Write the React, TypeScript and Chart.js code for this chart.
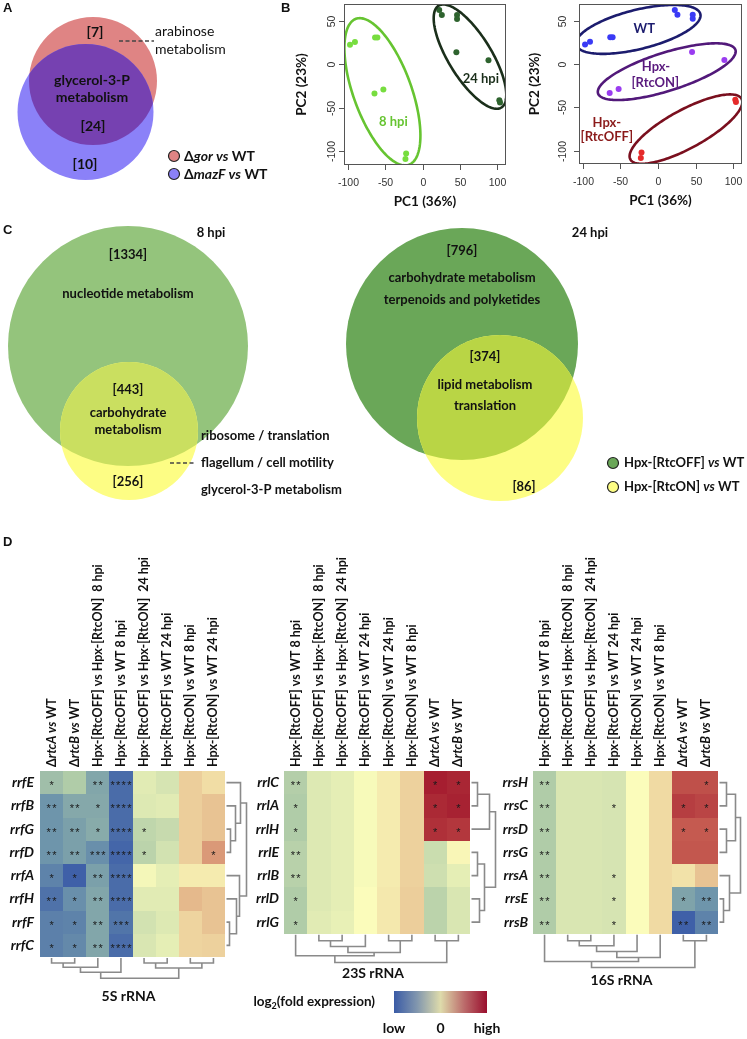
import React, { useEffect, useRef } from "react";
import { Chart, registerables } from "chart.js";

Chart.register(...registerables);

const FONT = "Lato, 'Open Sans', 'DejaVu Sans', sans-serif";
const RFONT = "'Liberation Sans', Arial, sans-serif";

/* ================= DATA ================= */

/* Panel A : Venn */
const A_LEGEND = ["Δ_gor vs_ WT", "Δ_mazF vs_ WT"];
const A_COUNTS = ["[7]", "[24]", "[10]"];
const A_SHARED_TERM = ["glycerol-3-P", "metabolism"];
const A_SIDE_TERM = ["arabinose", "metabolism"];

/* Panel B : PCA scores */
const PC1 = [-96.9, -90.3, -63.4, -60.3, -64.2, -52.3, -21.9, -22.8, 22.3, 25.8, 46.1, 46.1, 45.2, 88.1, 102.6, 103.5];
const PC2 = [22.7, 25.7, 31.0, 31.0, -33.5, -28.7, -102.3, -108.7, 62.6, 56.9, 56.9, 52.3, 13.9, 4.8, -41.2, -43.8];
const HPI = ["8 hpi", "8 hpi", "8 hpi", "8 hpi", "8 hpi", "8 hpi", "8 hpi", "8 hpi",
  "24 hpi", "24 hpi", "24 hpi", "24 hpi", "24 hpi", "24 hpi", "24 hpi", "24 hpi"];
const STRAIN = ["WT", "WT", "WT", "WT", "RtcON", "RtcON", "RtcOFF", "RtcOFF",
  "WT", "WT", "WT", "WT", "RtcON", "RtcON", "RtcOFF", "RtcOFF"];
const PCA_X_TICKS = [-100, -50, 0, 50, 100];
const PCA_Y_TICKS = [-100, -50, 0, 50];

/* Panel C : Venn */
const C8_COUNTS = ["[1334]", "[443]", "[256]"];
const C8_BIG_TERMS = ["nucleotide metabolism"];
const C8_SHARED_TERMS = ["carbohydrate", "metabolism"];
const C8_SIDE_TERMS = ["ribosome / translation", "flagellum / cell motility", "glycerol-3-P metabolism"];
const C24_COUNTS = ["[796]", "[374]", "[86]"];
const C24_BIG_TERMS = ["carbohydrate metabolism", "terpenoids and polyketides"];
const C24_SHARED_TERMS = ["lipid metabolism", "translation"];
const C_LEGEND = ["Hpx-[RtcOFF] _vs_ WT", "Hpx-[RtcON] _vs_ WT"];

/* Panel D : heatmaps */
const COLS_5S = ["Δ_rtcA vs_ WT", "Δ_rtcB vs_ WT", "Hpx-[RtcOFF] vs Hpx-[RtcON]  8 hpi", "Hpx-[RtcOFF] vs WT 8 hpi",
  "Hpx-[RtcOFF] vs Hpx-[RtcON]  24 hpi", "Hpx-[RtcOFF] vs WT 24 hpi", "Hpx-[RtcON] vs WT 8 hpi", "Hpx-[RtcON] vs WT 24 hpi"];
const ROWS_5S = ["rrfE", "rrfB", "rrfG", "rrfD", "rrfA", "rrfH", "rrfF", "rrfC"];
const VAL_5S = [
  [-1.25, -1.0, -1.7, -2.7, -0.35, -0.5, 0.8, 0.55],
  [-2.0, -1.65, -1.65, -2.7, -0.4, -0.35, 0.8, 1.0],
  [-2.0, -1.8, -1.6, -2.7, -0.8, -0.7, 0.8, 1.0],
  [-2.0, -1.8, -2.1, -2.8, -0.85, -0.55, 0.8, 1.4],
  [-2.3, -2.9, -1.8, -2.7, -0.1, -0.3, 0.3, 0.3],
  [-2.6, -2.1, -1.7, -2.7, -0.35, -0.35, 1.1, 1.0],
  [-2.35, -2.3, -1.7, -2.55, -0.55, -0.4, 0.7, 1.0],
  [-2.35, -2.2, -1.7, -2.7, -0.45, -0.3, 0.7, 0.75],
];
const STARS_5S = [
  [1, 0, 2, 4, 0, 0, 0, 0],
  [2, 2, 1, 4, 0, 0, 0, 0],
  [2, 2, 1, 4, 1, 0, 0, 0],
  [2, 2, 3, 4, 1, 0, 0, 1],
  [1, 1, 2, 4, 0, 0, 0, 0],
  [2, 1, 2, 4, 0, 0, 0, 0],
  [1, 1, 2, 3, 0, 0, 0, 0],
  [1, 1, 2, 4, 0, 0, 0, 0],
];
const COLDEND_5S: [number, number, number][] = [[-1, -2, 5], [1, -3, 9.3], [2, -4, 14.3], [-5, -6, 5], [-7, -8, 5], [4, 5, 10], [3, 6, 20.3]];
const ROWDEND_5S: [number, number, number][] = [[-3, -4, 4], [-2, 1, 9], [-1, 2, 14], [-7, -8, 3], [-6, 4, 10], [-5, 5, 13], [3, 6, 20]];

const COLS_RRL = ["Hpx-[RtcOFF] vs WT 8 hpi", "Hpx-[RtcOFF] vs Hpx-[RtcON]  8 hpi", "Hpx-[RtcOFF] vs Hpx-[RtcON]  24 hpi",
  "Hpx-[RtcOFF] vs WT 24 hpi", "Hpx-[RtcON] vs WT 24 hpi", "Hpx-[RtcON] vs WT 8 hpi", "Δ_rtcA vs_ WT", "Δ_rtcB vs_ WT"];
const ROWS_23S = ["rrlC", "rrlA", "rrlH", "rrlE", "rrlB", "rrlD", "rrlG"];
const VAL_23S = [
  [-0.95, -0.4, -0.3, -0.05, 0.3, 0.75, 2.85, 2.75],
  [-1.0, -0.4, -0.3, -0.05, 0.3, 0.75, 2.7, 2.8],
  [-1.0, -0.4, -0.3, -0.05, 0.3, 0.75, 2.6, 2.5],
  [-0.9, -0.4, -0.3, -0.05, 0.3, 0.75, -0.65, 0.1],
  [-0.9, -0.4, -0.3, -0.05, 0.3, 0.75, -0.6, -0.3],
  [-1.0, -0.4, -0.3, 0.0, 0.35, 0.8, -0.85, -0.45],
  [-1.0, -0.35, -0.25, 0.0, 0.35, 0.8, -0.85, -0.45],
];
const STARS_23S = [
  [2, 0, 0, 0, 0, 0, 1, 1],
  [1, 0, 0, 0, 0, 0, 1, 1],
  [1, 0, 0, 0, 0, 0, 1, 1],
  [2, 0, 0, 0, 0, 0, 0, 0],
  [2, 0, 0, 0, 0, 0, 0, 0],
  [1, 0, 0, 0, 0, 0, 0, 0],
  [1, 0, 0, 0, 0, 0, 0, 0],
];
const COLDEND_23S: [number, number, number][] = [[-2, -3, 6], [1, -4, 11.7], [-5, -6, 6], [2, 3, 17.7], [-1, 4, 21], [-7, -8, 6], [5, 6, 27.7]];
const ROWDEND_23S: [number, number, number][] = [[-1, -2, 6], [1, -3, 18], [-4, -5, 6], [-6, -7, 8], [3, 4, 13], [2, 5, 24]];

const ROWS_16S = ["rrsH", "rrsC", "rrsD", "rrsG", "rrsA", "rrsE", "rrsB"];
const VAL_16S = [
  [-1.0, -0.45, -0.45, -0.5, 0.0, 0.6, 2.15, 2.15],
  [-1.0, -0.45, -0.45, -0.5, 0.0, 0.6, 2.4, 2.3],
  [-1.0, -0.45, -0.45, -0.5, 0.0, 0.6, 2.0, 2.0],
  [-1.0, -0.45, -0.45, -0.5, 0.0, 0.6, 2.05, 2.05],
  [-1.0, -0.45, -0.45, -0.5, 0.0, 0.6, 0.45, 1.0],
  [-1.0, -0.45, -0.45, -0.5, 0.0, 0.6, -1.75, -2.0],
  [-1.0, -0.45, -0.45, -0.5, 0.0, 0.6, -2.9, -2.3],
];
const STARS_16S = [
  [2, 0, 0, 0, 0, 0, 0, 1],
  [2, 0, 0, 1, 0, 0, 1, 1],
  [2, 0, 0, 0, 0, 0, 1, 1],
  [2, 0, 0, 0, 0, 0, 0, 0],
  [2, 0, 0, 1, 0, 0, 0, 0],
  [2, 0, 0, 1, 0, 0, 1, 2],
  [2, 0, 0, 1, 0, 0, 2, 2],
];
const COLDEND_16S: [number, number, number][] = [[-2, -3, 6], [1, -4, 11], [2, -5, 16.7], [3, -6, 22.7], [-1, 4, 26.7], [-7, -8, 6], [5, 6, 32.7]];
const ROWDEND_16S: [number, number, number][] = [[-1, -2, 7], [-3, -4, 7], [1, 2, 16], [-6, -7, 4], [-5, 4, 10], [3, 5, 21]];

const LEGEND_TICKS = [-3, 0, 3];
const LEGEND_TICK_LABELS = ["low", "0", "high"];

/* ================= STYLE ================= */
const CMAP_STOPS: [number, string][] = [
  [-3, "#3a5aa8"], [-2, "#6e95ab"], [-1, "#b0cca8"], [0, "#fbfcbb"], [1, "#e8c393"], [2, "#c55a50"], [3, "#a0142a"],
];
const LEGEND_STOPS: [number, string][] = [[0, "#3a5ba6"], [0.25, "#8297ae"], [0.5, "#dedbab"], [0.75, "#bc6d6c"], [1, "#9a0f2e"]];

function hexRgb(h: string) {
  const n = parseInt(h.slice(1), 16);
  return [(n >> 16) & 255, (n >> 8) & 255, n & 255];
}
function cmap(v: number) {
  const s = CMAP_STOPS;
  if (v <= s[0][0]) return s[0][1];
  if (v >= s[s.length - 1][0]) return s[s.length - 1][1];
  for (let i = 0; i < s.length - 1; i++) {
    if (v >= s[i][0] && v <= s[i + 1][0]) {
      const t = (v - s[i][0]) / (s[i + 1][0] - s[i][0]);
      const a = hexRgb(s[i][1]), b = hexRgb(s[i + 1][1]);
      return `rgb(${a.map((c, k) => Math.round(c + (b[k] - c) * t)).join(",")})`;
    }
  }
  return s[0][1];
}

/* ================= HELPERS ================= */
function fontStr(size: number, bold: boolean, italic: boolean, fam = FONT) {
  return `${italic ? "italic " : ""}${bold ? "bold " : ""}${size}px ${fam}`;
}
function richParts(s: string) {
  return s.split("_").map((p, i) => ({ s: p, it: i % 2 === 1 })).filter((p) => p.s.length > 0);
}
function drawRich(ctx: any, s: string, x: number, y: number, size: number, align: string, color: string, bold = true) {
  const parts = richParts(s);
  let total = 0;
  for (const p of parts) { ctx.font = fontStr(size, bold, p.it); total += ctx.measureText(p.s).width; }
  let cx = align === "left" ? x : align === "center" ? x - total / 2 : x - total;
  ctx.textAlign = "left";
  ctx.fillStyle = color;
  for (const p of parts) { ctx.font = fontStr(size, bold, p.it); ctx.fillText(p.s, cx, y); cx += ctx.measureText(p.s).width; }
}
function panelLetter(ctx: any, s: string, x: number, y: number) {
  ctx.save();
  ctx.font = `bold 13px ${RFONT}`;
  ctx.fillStyle = "#111";
  ctx.textAlign = "left";
  ctx.textBaseline = "alphabetic";
  ctx.fillText(s, x, y);
  ctx.restore();
}

function baseConfig(pad: any, xr: number[], yr: number[], yReverse: boolean, hooks: any, datasets: any[] = []) {
  return {
    type: "scatter",
    data: { datasets },
    options: {
      responsive: false,
      animation: false,
      events: [],
      layout: { padding: pad },
      plugins: { legend: { display: false }, tooltip: { enabled: false } },
      scales: {
        x: { type: "linear", min: xr[0], max: xr[1], display: false },
        y: { type: "linear", min: yr[0], max: yr[1], display: false, reverse: yReverse },
      },
    },
    plugins: [{
      id: "drawing",
      beforeDatasetsDraw: (c: any) => { if (hooks.before) hooks.before(c); },
      afterDatasetsDraw: (c: any) => { if (hooks.after) hooks.after(c); },
    }],
  };
}

function vennPair(chart: any, big: any, small: any, cBig: string, cSmall: string, cOver: string) {
  const { ctx } = chart; const xs = chart.scales.x, ys = chart.scales.y;
  const px = (c: any) => ({
    x: xs.getPixelForValue(c.cx), y: ys.getPixelForValue(c.cy),
    rx: Math.abs(xs.getPixelForValue(c.cx + c.r) - xs.getPixelForValue(c.cx)),
    ry: Math.abs(ys.getPixelForValue(c.cy + c.r) - ys.getPixelForValue(c.cy)),
  });
  const a = px(big), b = px(small);
  const path = (p: any) => { ctx.beginPath(); ctx.ellipse(p.x, p.y, p.rx, p.ry, 0, 0, Math.PI * 2); };
  ctx.save();
  ctx.fillStyle = cBig; path(a); ctx.fill();
  ctx.fillStyle = cSmall; path(b); ctx.fill();
  path(a); ctx.clip();
  ctx.fillStyle = cOver; path(b); ctx.fill();
  ctx.restore();
}

function textAt(chart: any, s: string, x: number, y: number, size: number, align = "center", color = "#111", bold = true) {
  const { ctx } = chart;
  ctx.save();
  ctx.textBaseline = "middle";
  drawRich(ctx, s, chart.scales.x.getPixelForValue(x), chart.scales.y.getPixelForValue(y), size, align, color, bold);
  ctx.restore();
}

function marker(chart: any, x: number, y: number, color: string) {
  const { ctx } = chart;
  ctx.save();
  ctx.beginPath();
  ctx.arc(chart.scales.x.getPixelForValue(x), chart.scales.y.getPixelForValue(y), 5.5, 0, Math.PI * 2);
  ctx.fillStyle = color; ctx.fill();
  ctx.strokeStyle = "#222"; ctx.lineWidth = 1.2; ctx.stroke();
  ctx.restore();
}

function dashed(chart: any, x0: number, x1: number, y: number) {
  const { ctx } = chart; const xs = chart.scales.x, ys = chart.scales.y;
  ctx.save();
  ctx.strokeStyle = "#444"; ctx.lineWidth = 1.6; ctx.setLineDash([4, 2.5]);
  ctx.beginPath();
  ctx.moveTo(xs.getPixelForValue(x0), ys.getPixelForValue(y));
  ctx.lineTo(xs.getPixelForValue(x1), ys.getPixelForValue(y));
  ctx.stroke();
  ctx.restore();
}

/* ================= PANEL A ================= */
function makeVennA() {
  return baseConfig(0, [0, 290], [0, 220], true, {
    after: (chart: any) => {
      vennPair(chart, { cx: 93, cy: 81, r: 64 }, { cx: 85.5, cy: 112, r: 68 }, "#df8484", "#8b81f8", "#7641b1");
      textAt(chart, A_COUNTS[0], 95, 32, 14);
      dashed(chart, 119, 154, 41);
      textAt(chart, A_SIDE_TERM[0], 155, 31, 14, "left", "#111", false);
      textAt(chart, A_SIDE_TERM[1], 155, 49, 14, "left", "#111", false);
      textAt(chart, A_SHARED_TERM[0], 92, 80, 14);
      textAt(chart, A_SHARED_TERM[1], 92, 97, 14);
      textAt(chart, A_COUNTS[1], 93, 126, 14);
      textAt(chart, A_COUNTS[2], 85, 164, 14);
      marker(chart, 174, 156, "#df8484");
      marker(chart, 174, 174, "#8b81f8");
      textAt(chart, A_LEGEND[0], 184, 156, 14, "left");
      textAt(chart, A_LEGEND[1], 184, 174, 14, "left");
      panelLetter(chart.ctx, "A", 3, 12);
      panelLetter(chart.ctx, "B", 281, 12);
    },
  });
}

/* ================= PANEL B ================= */
const extent = (a: number[]) => {
  const mn = Math.min(...a), mx = Math.max(...a), d = (mx - mn) * 0.04;
  return [mn - d, mx + d];
};

const ELL_TIME = [
  { key: "8 hpi", cx: -53.6, cy: -31.4, ux: 35.4, uy: -83.8, vx: 36.4, vy: 11.4, color: "#66c431" },
  { key: "24 hpi", cx: 63.4, cy: 9.0, ux: 41.9, uy: -58.5, vx: 24.4, vy: 13.0, color: "#1b2f1b" },
];
const ELL_STRAIN = [
  { key: "WT", cx: -26.2, cy: 40.1, ux: 82.4, uy: 17.8, vx: 6.4, vy: -22.0, color: "#1c1c6e" },
  { key: "RtcON", cx: 11.6, cy: -8.8, ux: 91.2, uy: 25.2, vx: 7.9, vy: -21.0, color: "#52197a" },
  { key: "RtcOFF", cx: 37.1, cy: -75.2, ux: 73.8, uy: 35.1, vx: 12.5, vy: -19.4, color: "#7a0f1e" },
];

function drawPca(chart: any, ellipses: any[], labels: any[], ylabOff: number, titleOff: number) {
  const { ctx, chartArea: ca } = chart; const xs = chart.scales.x, ys = chart.scales.y;
  ctx.save();
  ctx.save();
  ctx.beginPath(); ctx.rect(ca.left, ca.top, ca.right - ca.left, ca.bottom - ca.top); ctx.clip();
  for (const e of ellipses) {
    ctx.beginPath();
    for (let i = 0; i <= 180; i++) {
      const t = (i / 180) * Math.PI * 2;
      const X = xs.getPixelForValue(e.cx + e.ux * Math.cos(t) + e.vx * Math.sin(t));
      const Y = ys.getPixelForValue(e.cy + e.uy * Math.cos(t) + e.vy * Math.sin(t));
      if (i === 0) ctx.moveTo(X, Y); else ctx.lineTo(X, Y);
    }
    ctx.closePath();
    ctx.strokeStyle = e.color; ctx.lineWidth = 2.6; ctx.stroke();
  }
  ctx.restore();
  for (const l of labels) textAt(chart, l.t, l.x, l.y, 13, "center", l.color);
  ctx.strokeStyle = "#555"; ctx.lineWidth = 1;
  ctx.strokeRect(Math.round(ca.left) + 0.5, Math.round(ca.top) + 0.5, Math.round(ca.right - ca.left) - 1, Math.round(ca.bottom - ca.top) - 1);
  ctx.font = `10.5px ${RFONT}`; ctx.fillStyle = "#333"; ctx.textAlign = "center"; ctx.textBaseline = "middle";
  ctx.beginPath();
  for (const v of PCA_X_TICKS) {
    const p = Math.round(xs.getPixelForValue(v)) + 0.5;
    ctx.moveTo(p, ca.bottom); ctx.lineTo(p, ca.bottom + 5);
    ctx.fillText(String(v), p, ca.bottom + 18);
  }
  for (const v of PCA_Y_TICKS) {
    const p = Math.round(ys.getPixelForValue(v)) + 0.5;
    ctx.moveTo(ca.left, p); ctx.lineTo(ca.left - 5, p);
    ctx.save(); ctx.translate(ca.left - ylabOff, p); ctx.rotate(-Math.PI / 2); ctx.fillText(String(v), 0, 0); ctx.restore();
  }
  ctx.stroke();
  ctx.font = fontStr(13.5, true, false); ctx.fillStyle = "#111";
  ctx.fillText("PC1 (36%)", (ca.left + ca.right) / 2, ca.bottom + 37);
  ctx.save(); ctx.translate(ca.left - titleOff, (ca.top + ca.bottom) / 2); ctx.rotate(-Math.PI / 2);
  ctx.fillText("PC2 (23%)", 0, 0); ctx.restore();
  ctx.restore();
}

function pcaConfig(pad: any, colors: string[], ellipses: any[], labels: any[], ylabOff: number, titleOff: number) {
  const xr = extent(PC1), yr = extent(PC2);
  const ds = [{
    data: PC1.map((x, i) => ({ x, y: PC2[i] })),
    pointRadius: 3, pointBorderWidth: 0,
    pointBackgroundColor: colors, pointBorderColor: colors, showLine: false,
  }];
  return baseConfig(pad, xr, yr, false, { after: (c: any) => drawPca(c, ellipses, labels, ylabOff, titleOff) }, ds);
}

function makePcaLeft() {
  const colors = HPI.map((h) => (h === "8 hpi" ? "#77dd3f" : "#2e632e"));
  return pcaConfig({ left: 54, top: 2, right: 2, bottom: 50 }, colors, ELL_TIME, [
    { t: "8 hpi", x: -39, y: -65.4, color: "#66c431" },
    { t: "24 hpi", x: 78, y: -16.5, color: "#1b2f1b" },
  ], 12, 42);
}
function makePcaRight() {
  const pal: any = { WT: "#3a3af5", RtcON: "#9a3cf0", RtcOFF: "#e52a2a" };
  return pcaConfig({ left: 69, top: 3, right: 5, bottom: 51 }, STRAIN.map((s) => pal[s]), ELL_STRAIN, [
    { t: "WT", x: -18.2, y: 41.2, color: "#1c1c6e" },
    { t: "Hpx-", x: -2.7, y: -3.4, color: "#5a1a7e" },
    { t: "[RtcON]", x: -3.6, y: -21.8, color: "#5a1a7e" },
    { t: "Hpx-", x: -68, y: -67.6, color: "#8b1a1a" },
    { t: "[RtcOFF]", x: -68, y: -84.4, color: "#8b1a1a" },
  ], 16, 44);
}

/* ================= PANEL C ================= */
function makeVennC() {
  return baseConfig(0, [0, 747], [222, 512], true, {
    after: (chart: any) => {
      vennPair(chart, { cx: 128, cy: 346, r: 120 }, { cx: 129, cy: 431, r: 69 }, "#94c47c", "#fdfd84", "#cadf60");
      vennPair(chart, { cx: 462, cy: 344, r: 116 }, { cx: 500, cy: 418, r: 83 }, "#6aa758", "#fdfd84", "#b9d545");
      panelLetter(chart.ctx, "C", 3, 12);
      textAt(chart, "8 hpi", 211, 233, 13);
      textAt(chart, C8_COUNTS[0], 128, 255, 13);
      textAt(chart, C8_BIG_TERMS[0], 128, 294, 13);
      textAt(chart, C8_COUNTS[1], 128, 390, 13);
      textAt(chart, C8_SHARED_TERMS[0], 128, 413, 13);
      textAt(chart, C8_SHARED_TERMS[1], 128, 430, 13);
      textAt(chart, C8_COUNTS[2], 128, 482, 13);
      textAt(chart, C8_SIDE_TERMS[0], 201, 436, 13, "left");
      dashed(chart, 170, 196, 463);
      textAt(chart, C8_SIDE_TERMS[1], 201, 463, 13, "left");
      textAt(chart, C8_SIDE_TERMS[2], 201, 490, 13, "left");
      textAt(chart, "24 hpi", 590, 233, 13);
      textAt(chart, C24_COUNTS[0], 462, 251, 13);
      textAt(chart, C24_BIG_TERMS[0], 462, 278, 13);
      textAt(chart, C24_BIG_TERMS[1], 462, 300, 13);
      textAt(chart, C24_COUNTS[1], 485, 357, 13);
      textAt(chart, C24_SHARED_TERMS[0], 485, 385, 13);
      textAt(chart, C24_SHARED_TERMS[1], 485, 406, 13);
      textAt(chart, C24_COUNTS[2], 524, 487, 13);
      marker(chart, 613, 463, "#6aa758");
      marker(chart, 613, 487, "#fdfd84");
      textAt(chart, C_LEGEND[0], 624, 463, 13, "left");
      textAt(chart, C_LEGEND[1], 624, 487, 13, "left");
    },
  });
}

/* ================= PANEL D ================= */
function drawDend(ctx: any, merges: [number, number, number][], leaf: number[], base: number, orient: string) {
  const pos: number[] = [], hgt: number[] = [];
  const get = (id: number) => (id < 0 ? [leaf[-id - 1], 0] : [pos[id - 1], hgt[id - 1]]);
  ctx.beginPath();
  merges.forEach(([a, b, h], i) => {
    const [pa, ha] = get(a), [pb, hb] = get(b);
    pos[i] = (pa + pb) / 2; hgt[i] = h;
    if (orient === "bottom") {
      ctx.moveTo(pa, base + ha); ctx.lineTo(pa, base + h); ctx.lineTo(pb, base + h); ctx.lineTo(pb, base + hb);
    } else {
      ctx.moveTo(base + ha, pa); ctx.lineTo(base + h, pa); ctx.lineTo(base + h, pb); ctx.lineTo(base + hb, pb);
    }
  });
  ctx.stroke();
}

function drawHeatmap(chart: any, hm: any) {
  const { ctx, chartArea: ca } = chart; const xs = chart.scales.x, ys = chart.scales.y;
  ctx.save();
  hm.vals.forEach((row: number[], r: number) => row.forEach((v, c) => {
    const x0 = Math.round(xs.getPixelForValue(c)), x1 = Math.round(xs.getPixelForValue(c + 1));
    const y0 = Math.round(ys.getPixelForValue(r)), y1 = Math.round(ys.getPixelForValue(r + 1));
    ctx.fillStyle = cmap(v);
    ctx.fillRect(x0, y0, x1 - x0, y1 - y0);
  }));
  ctx.fillStyle = "#1a1a1a"; ctx.font = `11px ${RFONT}`; ctx.textAlign = "center"; ctx.textBaseline = "alphabetic";
  hm.stars.forEach((row: number[], r: number) => row.forEach((n, c) => {
    const cx = xs.getPixelForValue(c + 0.5), cy = ys.getPixelForValue(r + 0.5);
    for (let k = 0; k < n; k++) ctx.fillText("*", cx + (k - (n - 1) / 2) * 5.6, cy + 6.5);
  }));
  ctx.textBaseline = "middle"; ctx.textAlign = "right"; ctx.fillStyle = "#111"; ctx.font = fontStr(14, true, true);
  hm.rows.forEach((name: string, r: number) => ctx.fillText(name, ca.left - hm.rowGap, ys.getPixelForValue(r + 0.5)));
  hm.cols.forEach((lab: string, c: number) => {
    ctx.save();
    ctx.translate(xs.getPixelForValue(c + 0.5), ca.top - 4);
    ctx.rotate(-Math.PI / 2);
    ctx.textBaseline = "middle";
    drawRich(ctx, lab, 0, 0, 12.5, "left", "#111");
    ctx.restore();
  });
  ctx.strokeStyle = "#8a8a8a"; ctx.lineWidth = 1.6;
  drawDend(ctx, hm.colDend, hm.cols.map((_: any, c: number) => xs.getPixelForValue(c + 0.5)), ca.bottom + 1, "bottom");
  drawDend(ctx, hm.rowDend, hm.rows.map((_: any, r: number) => ys.getPixelForValue(r + 0.5)), ca.right + 1.5, "right");
  ctx.font = fontStr(14, true, false); ctx.textAlign = "center"; ctx.textBaseline = "middle"; ctx.fillStyle = "#111";
  ctx.fillText(hm.title, (ca.left + ca.right) / 2 - 4, ca.bottom + hm.titleDy);
  ctx.restore();
}

function heatmapConfig(hm: any, pad: any, extra?: (c: any) => void) {
  return baseConfig(pad, [0, hm.cols.length], [0, hm.rows.length], true, {
    after: (c: any) => { drawHeatmap(c, hm); if (extra) extra(c); },
  });
}

function make5S() {
  return heatmapConfig({ rows: ROWS_5S, cols: COLS_5S, vals: VAL_5S, stars: STARS_5S, rowDend: ROWDEND_5S, colDend: COLDEND_5S, title: "5S rRNA", titleDy: 39, rowGap: 6 },
    { left: 40, right: 25, top: 241, bottom: 53 }, (c: any) => panelLetter(c.ctx, "D", 3, 16));
}
function make23S() {
  return heatmapConfig({ rows: ROWS_23S, cols: COLS_RRL, vals: VAL_23S, stars: STARS_23S, rowDend: ROWDEND_23S, colDend: COLDEND_23S, title: "23S rRNA", titleDy: 40, rowGap: 5 },
    { left: 34, right: 30, top: 241, bottom: 46.25 });
}
function make16S() {
  return heatmapConfig({ rows: ROWS_16S, cols: COLS_RRL, vals: VAL_16S, stars: STARS_16S, rowDend: ROWDEND_16S, colDend: COLDEND_16S, title: "16S rRNA", titleDy: 47, rowGap: 5 },
    { left: 33, right: 29, top: 241, bottom: 56.25 });
}

function makeLegend() {
  return baseConfig({ left: 154, right: 53, top: 6, bottom: 26 }, [-3, 3], [0, 1], false, {
    after: (chart: any) => {
      const { ctx, chartArea: ca } = chart; const xs = chart.scales.x;
      ctx.save();
      const x0 = xs.getPixelForValue(LEGEND_TICKS[0]), x1 = xs.getPixelForValue(LEGEND_TICKS[LEGEND_TICKS.length - 1]);
      const g = ctx.createLinearGradient(x0, 0, x1, 0);
      for (const [o, c] of LEGEND_STOPS) g.addColorStop(o, c);
      ctx.fillStyle = g;
      ctx.fillRect(x0, ca.top, x1 - x0, ca.bottom - ca.top);
      ctx.fillStyle = "#111"; ctx.textBaseline = "middle";
      ctx.font = fontStr(14, true, false); ctx.textAlign = "center";
      LEGEND_TICKS.forEach((v, i) => ctx.fillText(LEGEND_TICK_LABELS[i], xs.getPixelForValue(v), ca.bottom + 15));
      const yT = ca.top + 11, right = ca.left - 19;
      ctx.textAlign = "left";
      const big = fontStr(13.5, true, false), sub = fontStr(9, true, false);
      ctx.font = big; const wLog = ctx.measureText("log").width, wRest = ctx.measureText("(fold expression)").width;
      ctx.font = sub; const wSub = ctx.measureText("2").width;
      let x = right - (wLog + wSub + wRest);
      ctx.font = big; ctx.fillText("log", x, yT); x += wLog;
      ctx.font = sub; ctx.fillText("2", x, yT + 4); x += wSub;
      ctx.font = big; ctx.fillText("(fold expression)", x, yT);
      ctx.restore();
    },
  });
}

/* ================= REACT ================= */
function ChartBox(props: { left: number; top: number; width: number; height: number; make: () => any }) {
  const ref = useRef<HTMLCanvasElement>(null);
  useEffect(() => {
    const chart = new Chart(ref.current as HTMLCanvasElement, props.make() as any);
    return () => chart.destroy();
  }, []);
  return (
    <canvas
      ref={ref}
      width={props.width}
      height={props.height}
      style={{ position: "absolute", left: props.left, top: props.top, width: props.width, height: props.height }}
    />
  );
}

export default function App() {
  return (
    <div style={{ position: "absolute", left: 0, top: 0, width: 747, height: 1039, background: "#fff", overflow: "hidden" }}>
      <ChartBox left={0} top={0} width={290} height={220} make={makeVennA} />
      <ChartBox left={290} top={0} width={220} height={215} make={makePcaLeft} />
      <ChartBox left={510} top={0} width={237} height={215} make={makePcaRight} />
      <ChartBox left={0} top={222} width={747} height={290} make={makeVennC} />
      <ChartBox left={0} top={530} width={250} height={480} make={make5S} />
      <ChartBox left={250} top={530} width={250} height={450} make={make23S} />
      <ChartBox left={500} top={530} width={247} height={460} make={make16S} />
      <ChartBox left={240} top={985} width={300} height={54} make={makeLegend} />
    </div>
  );
}
